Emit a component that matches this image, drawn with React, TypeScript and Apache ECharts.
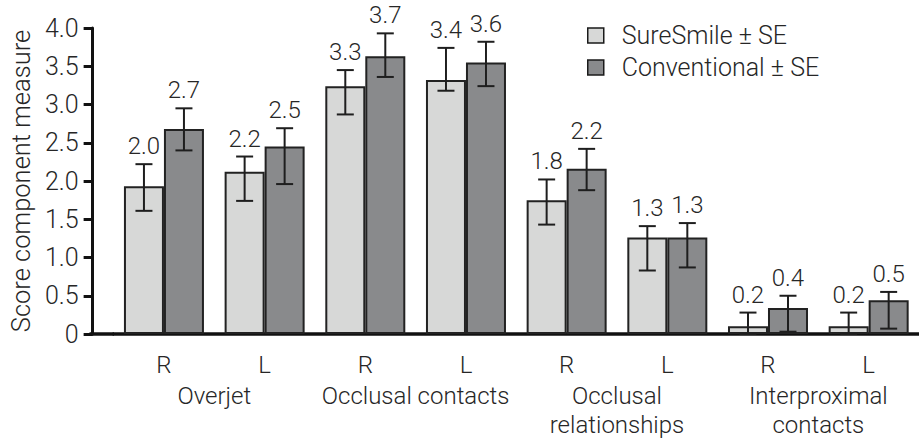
import React, { useEffect, useRef } from "react";
import * as echarts from "echarts";

const categories = ["R", "L", "R", "L", "R", "L", "R", "L"];
const groups = ["Overjet", "Occlusal contacts", "Occlusal\nrelationships", "Interproximal\ncontacts"];

const sureSmileMean = [1.93, 2.12, 3.24, 3.32, 1.75, 1.26, 0.1, 0.1];
const sureSmileLow = [1.61, 1.74, 2.87, 3.18, 1.43, 0.83, 0.0, 0.0];
const sureSmileHigh = [2.22, 2.32, 3.45, 3.74, 2.02, 1.41, 0.28, 0.28];
const sureSmileLabels = ["2.0", "2.2", "3.3", "3.4", "1.8", "1.3", "0.2", "0.2"];

const convMean = [2.68, 2.45, 3.63, 3.55, 2.16, 1.26, 0.34, 0.44];
const convLow = [2.4, 1.96, 3.36, 3.24, 1.88, 0.87, 0.03, 0.07];
const convHigh = [2.95, 2.69, 3.93, 3.82, 2.42, 1.45, 0.5, 0.55];
const convLabels = ["2.7", "2.5", "3.7", "3.6", "2.2", "1.3", "0.4", "0.5"];

const yTicks = { min: 0, max: 4, interval: 0.5 };

const FONT = "Roboto, 'Liberation Sans', sans-serif";
const TEXT_COLOR = "#262626";
const FS = 24;
const BAR_W = 40;
const LIGHT = "#d7d8d7";
const DARK = "#898a8c";

function errSeries(name: string, low: number[], high: number[], labels: string[], side: number) {
  return {
    type: "custom",
    name,
    z: 5,
    data: low.map((l, i) => [i, l, high[i]]),
    encode: { x: 0, y: [1, 2] },
    renderItem: (_params: any, api: any) => {
      const i = api.value(0);
      const lo = api.coord([i, api.value(1)]);
      const hi = api.coord([i, api.value(2)]);
      const x = lo[0] + (side * BAR_W) / 2;
      const cap = 8.5;
      const ls = { stroke: "#1e1e1e", lineWidth: 2 };
      return {
        type: "group",
        children: [
          { type: "line", shape: { x1: x, y1: lo[1], x2: x, y2: hi[1] }, style: ls },
          { type: "line", shape: { x1: x - cap, y1: hi[1], x2: x + cap, y2: hi[1] }, style: ls },
          { type: "line", shape: { x1: x - cap, y1: lo[1], x2: x + cap, y2: lo[1] }, style: ls },
          {
            type: "text",
            x,
            y: hi[1] - 6,
            style: {
              text: labels[i],
              align: "center",
              verticalAlign: "bottom",
              fontSize: FS,
              fontFamily: FONT,
              fontWeight: 300,
              fill: TEXT_COLOR,
            },
          },
        ],
      };
    },
  };
}

export default function App() {
  const ref = useRef<HTMLDivElement>(null);
  useEffect(() => {
    if (!ref.current) return;
    const chart = echarts.init(ref.current, null, { renderer: "svg" });
    const barItem = (color: string) => ({ color, borderColor: "#222", borderWidth: 2 });
    const lbl = { fontSize: FS, color: TEXT_COLOR, fontFamily: FONT, fontWeight: 300 };
    chart.setOption({
      animation: false,
      backgroundColor: "#ffffff",
      textStyle: { fontFamily: FONT, fontWeight: 300, color: TEXT_COLOR },
      grid: { left: 112, right: -7, top: 28, bottom: 109, containLabel: false },
      legend: {
        data: ["SureSmile ± SE", "Conventional ± SE"],
        orient: "vertical",
        left: 582,
        top: 17,
        itemWidth: 16,
        itemHeight: 15,
        itemGap: 5,
        icon: "rect",
        itemStyle: { borderColor: "#1a1a1a", borderWidth: 1.5 },
        textStyle: {
          fontSize: 25,
          lineHeight: 27,
          fontFamily: FONT,
          fontWeight: 300,
          color: TEXT_COLOR,
          padding: [0, 0, 0, 13],
        },
      },
      xAxis: [
        {
          type: "category",
          data: categories,
          axisLine: { show: true, lineStyle: { color: "#111", width: 3.5 } },
          axisTick: { show: false },
          axisLabel: { ...lbl, margin: 19, interval: 0 },
        },
        {
          type: "category",
          data: groups,
          position: "bottom",
          axisLine: { show: false },
          axisTick: { show: false },
          axisLabel: { ...lbl, margin: 47, lineHeight: 29, interval: 0 },
        },
      ],
      yAxis: {
        type: "value",
        min: yTicks.min,
        max: yTicks.max,
        interval: yTicks.interval,
        offset: 21,
        name: "Score component measure",
        nameLocation: "middle",
        nameGap: 57,
        nameTextStyle: { ...lbl, fontSize: 25.5 },
        axisLine: { show: true, lineStyle: { color: "#111", width: 3 } },
        axisTick: { show: true, inside: false, length: 9, lineStyle: { color: "#111", width: 3 } },
        splitLine: { show: false },
        axisLabel: {
          ...lbl,
          fontSize: 25,
          margin: 14,
          formatter: (v: number) => (v === 0 ? "0" : v.toFixed(1)),
        },
      },
      graphic: [
        {
          type: "line",
          shape: { x1: 89.5, y1: 334, x2: 114, y2: 334 },
          style: { stroke: "#111", lineWidth: 3.5 },
          z: 1,
        },
      ],
      series: [
        {
          type: "bar",
          name: "SureSmile ± SE",
          data: sureSmileMean,
          barWidth: BAR_W,
          barGap: "0%",
          itemStyle: barItem(LIGHT),
        },
        {
          type: "bar",
          name: "Conventional ± SE",
          data: convMean,
          barWidth: BAR_W,
          barGap: "0%",
          itemStyle: barItem(DARK),
        },
        errSeries("err-ss", sureSmileLow, sureSmileHigh, sureSmileLabels, -1),
        errSeries("err-cv", convLow, convHigh, convLabels, 1),
      ],
    });
    return () => chart.dispose();
  }, []);
  return (
    <div
      ref={ref}
      style={{ position: "fixed", left: 0, top: 0, width: 919, height: 443, background: "#fff" }}
    />
  );
}
